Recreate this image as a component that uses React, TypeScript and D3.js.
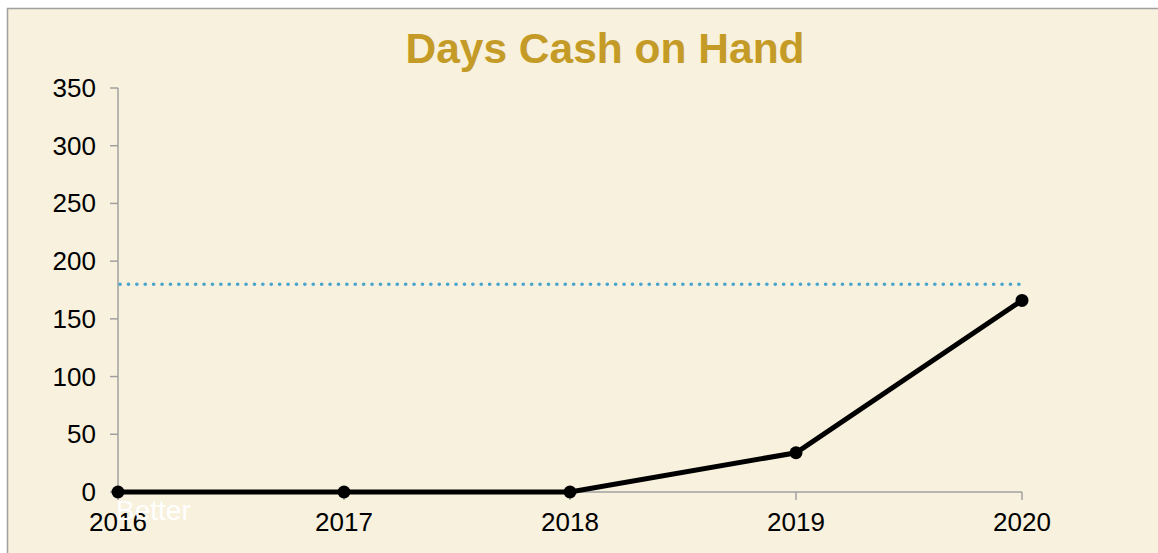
import React, { useEffect, useRef } from 'react';
import * as d3 from 'd3';

const years = ['2016', '2017', '2018', '2019', '2020'];
const daysCash = [0, 0, 0, 34, 166];
const target = 180;
const yTicks = [0, 50, 100, 150, 200, 250, 300, 350];

const W = 1158;
const H = 553;

export default function App() {
  const ref = useRef<SVGSVGElement>(null);

  useEffect(() => {
    const svg = d3.select(ref.current);
    svg.selectAll('*').remove();

    const font = 'Arial, "Liberation Sans", sans-serif';

    // frame
    svg.append('rect')
      .attr('x', 7.5).attr('y', 8.5)
      .attr('width', 1200).attr('height', 600)
      .attr('fill', '#F8F1DD')
      .attr('stroke', '#A0A0A0')
      .attr('stroke-width', 1.5);

    const x = d3.scalePoint().domain(years).range([118, 1022]);
    const y = d3.scaleLinear().domain([0, 350]).range([492, 88]);

    svg.append('text')
      .attr('x', 605).attr('y', 63)
      .attr('text-anchor', 'middle')
      .attr('font-family', font)
      .attr('font-weight', 'bold')
      .attr('font-size', 42.5)
      .attr('fill', '#C59B27')
      .text('Days Cash on Hand');

    // y axis
    const axisColor = '#A0A0A0';
    svg.append('line')
      .attr('x1', 118).attr('x2', 118)
      .attr('y1', y(350)).attr('y2', y(0))
      .attr('stroke', axisColor).attr('stroke-width', 1.5);
    const yt = svg.append('g').selectAll('g').data(yTicks).enter().append('g');
    yt.append('line')
      .attr('x1', 110).attr('x2', 118)
      .attr('y1', d => y(d)).attr('y2', d => y(d))
      .attr('stroke', axisColor).attr('stroke-width', 1.5);
    yt.append('text')
      .attr('x', 96).attr('y', d => y(d) + 9)
      .attr('text-anchor', 'end')
      .attr('font-family', font)
      .attr('font-size', 26)
      .attr('fill', '#000')
      .text(d => d);

    // x axis
    svg.append('line')
      .attr('x1', 118).attr('x2', 1022)
      .attr('y1', y(0)).attr('y2', y(0))
      .attr('stroke', axisColor).attr('stroke-width', 1.5);
    const xt = svg.append('g').selectAll('g').data(years).enter().append('g');
    xt.append('line')
      .attr('x1', d => x(d)!).attr('x2', d => x(d)!)
      .attr('y1', y(0)).attr('y2', y(0) + 8)
      .attr('stroke', axisColor).attr('stroke-width', 1.5);
    xt.append('text')
      .attr('x', d => x(d)!).attr('y', 531)
      .attr('text-anchor', 'middle')
      .attr('font-family', font)
      .attr('font-size', 26)
      .attr('fill', '#000')
      .text(d => d);

    // target dotted line
    svg.append('line')
      .attr('x1', 120).attr('x2', 1020)
      .attr('y1', y(target)).attr('y2', y(target))
      .attr('stroke', '#4AA5CE')
      .attr('stroke-width', 3.6)
      .attr('stroke-linecap', 'round')
      .attr('stroke-dasharray', '0.1 8.3');

    // series line
    const line = d3.line<number>()
      .x((_, i) => x(years[i])!)
      .y(d => y(d));
    svg.append('path')
      .datum(daysCash)
      .attr('d', line)
      .attr('fill', 'none')
      .attr('stroke', '#000')
      .attr('stroke-width', 5);
    svg.append('g').selectAll('circle').data(daysCash).enter().append('circle')
      .attr('cx', (_, i) => x(years[i])!)
      .attr('cy', d => y(d))
      .attr('r', 6.5)
      .attr('fill', '#000');

    svg.append('text')
      .attr('x', 116).attr('y', 520)
      .attr('font-family', font)
      .attr('font-size', 28)
      .attr('fill', '#FFFFFF')
      .text('Better');
  }, []);

  return (
    <svg ref={ref} width={W} height={H}
      style={{ position: 'absolute', left: 0, top: 0, background: '#fff' }} />
  );
}
